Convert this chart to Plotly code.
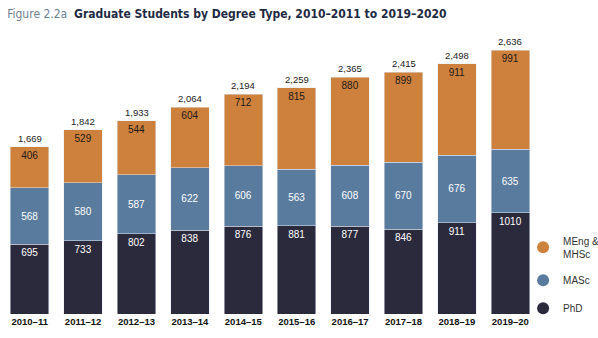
import plotly.graph_objects as go

years = ["2010–11", "2011–12", "2012–13", "2013–14", "2014–15", "2015–16",
         "2016–17", "2017–18", "2018–19", "2019–20"]
phd = [695, 733, 802, 838, 876, 881, 877, 846, 911, 1010]
masc = [568, 580, 587, 622, 606, 563, 608, 670, 676, 635]
meng = [406, 529, 544, 604, 712, 815, 880, 899, 911, 991]
totals = [1669, 1842, 1933, 2064, 2194, 2259, 2365, 2415, 2498, 2636]

C_PHD = "#2B2A3D"
C_MASC = "#587B9E"
C_MENG = "#CE803D"
FONT = "Liberation Sans, Arial, sans-serif"

fig = go.Figure()
fig.add_bar(x=years, y=phd, marker_color=C_PHD, text=[str(v) for v in phd],
            textposition="inside", insidetextanchor="end",
            textfont=dict(color="white", size=10, family=FONT), showlegend=False)
fig.add_bar(x=years, y=masc, marker_color=C_MASC, text=[str(v) for v in masc],
            textposition="inside", insidetextanchor="middle",
            textfont=dict(color="white", size=10, family=FONT), showlegend=False)
fig.add_bar(x=years, y=meng, marker_color=C_MENG, text=[str(v) for v in meng],
            textposition="inside", insidetextanchor="end",
            textfont=dict(color="#1a1a1a", size=10, family=FONT), showlegend=False)

# legend entries with circle markers
for i, (name, col) in enumerate([("MEng &<br>MHSc", C_MENG), ("MASc", C_MASC), ("PhD", C_PHD)]):
    fig.add_scatter(x=[None], y=[None], mode="markers", name=name, legendgroup=f"g{i}",
                    marker=dict(color=col, size=14, symbol="circle"))

for x, t in zip(years, totals):
    fig.add_annotation(x=x, y=t, text=f"{t:,}", showarrow=False, yanchor="bottom",
                       yshift=1, font=dict(size=9.5, color="#222", family=FONT))

fig.update_layout(
    width=598, height=338,
    margin=dict(l=3, r=61, t=30, b=24, autoexpand=False),
    barmode="stack", bargap=0.28,
    plot_bgcolor="white", paper_bgcolor="white",
    uniformtext=dict(minsize=8, mode="show"),
    title=dict(
        text="<span style='color:#6d7f96'>Figure 2.2a</span>  <b>Graduate Students by Degree Type, 2010–2011 to 2019–2020</b>",
        x=0.012, xanchor="left", y=1 - 14 / 338, yanchor="middle",
        font=dict(size=12, color="#1f2a44", family="Liberation Sans Narrow, DejaVu Sans Condensed, sans-serif"),
    ),
    xaxis=dict(showgrid=False, showline=False, ticks="", zeroline=False,
               tickfont=dict(size=9.5, color="#111", family=FONT, weight="bold")),
    yaxis=dict(visible=False, range=[0, 2837]),
    legend=dict(x=0.974, xanchor="left", y=0.304, yanchor="top",
                traceorder="grouped",
                font=dict(size=10, color="#333", family=FONT),
                tracegroupgap=9, itemsizing="constant",
                bgcolor="rgba(0,0,0,0)"),
)
fig.write_html("out.html")
